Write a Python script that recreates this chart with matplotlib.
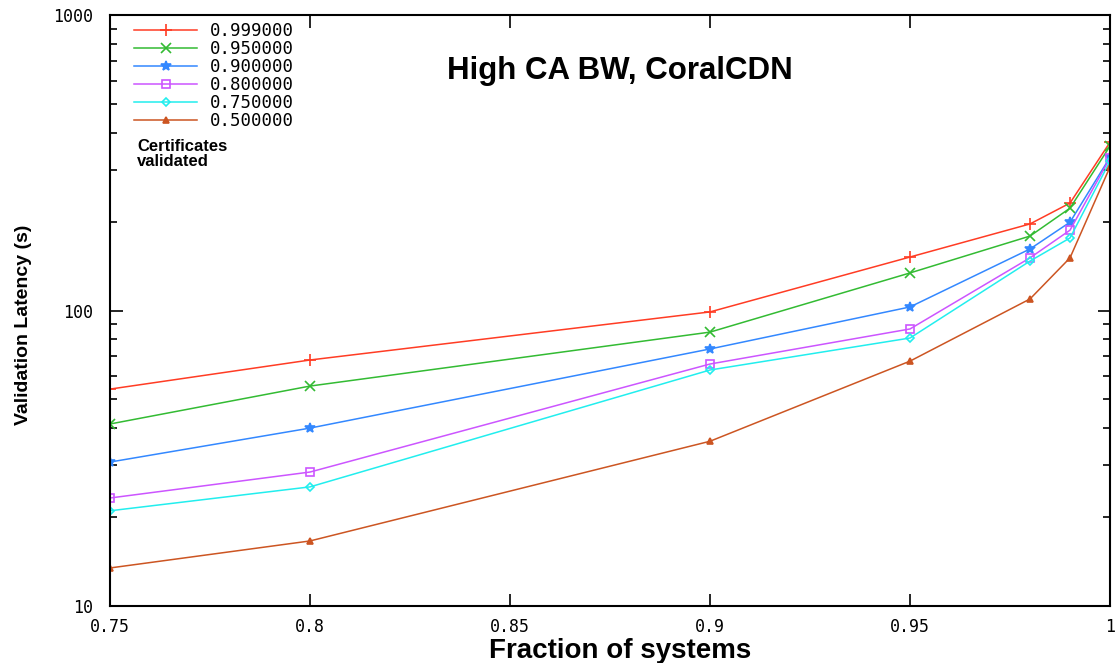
import matplotlib
matplotlib.use("Agg")
import matplotlib.pyplot as plt
from matplotlib.ticker import LogLocator, NullFormatter, FixedLocator, FixedFormatter

x = [0.75, 0.8, 0.9, 0.95, 0.98, 0.99, 1.0]
labels = ["0.999000", "0.950000", "0.900000", "0.800000", "0.750000", "0.500000"]
s999 = [54.2, 68.0, 98.9, 151.7, 196.3, 231, 371]
s950 = [41.3, 55.5, 84.5, 134, 178.6, 222, 360]
s900 = [30.7, 40.0, 74.1, 102.8, 161.5, 199, 330]
s800 = [23.2, 28.4, 65.9, 86.6, 150.7, 187, 328]
s750 = [21.0, 25.3, 62.9, 80.7, 147, 176, 320]
s500 = [13.45, 16.6, 36.1, 67.4, 109.4, 150.7, 306]
series = [s999, s950, s900, s800, s750, s500]
xticks = [0.75, 0.8, 0.85, 0.9, 0.95, 1.0]
xticklabels = ["0.75", "0.8", "0.85", "0.9", "0.95", "1"]
yticks = [10, 100, 1000]
yticklabels = ["10", "100", "1000"]

colors = ["#ff3c24", "#33bb33", "#3388ff", "#cc55ff", "#22eeee", "#cc5522"]
markers = ["+", "x", "*", "s", "D", "^"]
mfc = ["none", "none", "#3388ff", "none", "none", "#cc5522"]
msz = [8, 7, 7, 6, 4, 5]

mono = "DejaVu Sans Mono"

fig = plt.figure(figsize=(11.2, 6.63), dpi=100)
ax = fig.add_axes([110/1120, 1-606/663, 1000/1120, 591/663])

for ys, c, m, f, s, lab in zip(series, colors, markers, mfc, msz, labels):
    ax.plot(x, ys, color=c, marker=m, markerfacecolor=f, markeredgecolor=c,
            markersize=s, linewidth=1.1, markeredgewidth=1.2, label=lab)

ax.set_yscale("log")
ax.set_xlim(0.75, 1.0)
ax.set_ylim(10, 1000)
ax.xaxis.set_major_locator(FixedLocator(xticks))
ax.xaxis.set_major_formatter(FixedFormatter(xticklabels))
ax.yaxis.set_major_locator(FixedLocator(yticks))
ax.yaxis.set_major_formatter(FixedFormatter(yticklabels))
ax.yaxis.set_minor_locator(LogLocator(base=10, subs=range(2, 10)))
ax.yaxis.set_minor_formatter(NullFormatter())
ax.tick_params(which="both", direction="in", top=True, right=True, width=1.2)
ax.tick_params(which="major", length=9, labelsize=12, pad=9)
ax.tick_params(axis="y", which="major", pad=12)
ax.tick_params(which="minor", length=5)
for lbl in ax.get_xticklabels() + ax.get_yticklabels():
    lbl.set_family(mono)
for sp in ax.spines.values():
    sp.set_linewidth(1.5)

ax.set_xlabel("Fraction of systems", fontsize=20, fontweight="bold",
              family="Liberation Sans", va="center")
ax.xaxis.set_label_coords(0.51, -0.0755)
ax.set_ylabel("Validation Latency (s)", fontsize=14, fontweight="bold",
              family="Liberation Sans", va="center")
ax.yaxis.set_label_coords(-0.086, 0.475)

ax.text(0.51, 0.905, "High CA BW, CoralCDN", transform=ax.transAxes,
        ha="center", va="center", fontsize=22.5, fontweight="bold", family="Liberation Sans")

leg = ax.legend(loc="upper left", bbox_to_anchor=(0.014, 1.005), frameon=False,
                prop={"family": mono, "size": 12.5}, handlelength=3.6,
                labelspacing=0.0, handletextpad=0.75, borderaxespad=0.2)

ax.text(0.027, 0.765, "Certificates\nvalidated", transform=ax.transAxes,
        ha="left", va="center", fontsize=12, fontweight="bold",
        family="Liberation Sans", linespacing=1.05)

fig.savefig("out.png", dpi=100)
